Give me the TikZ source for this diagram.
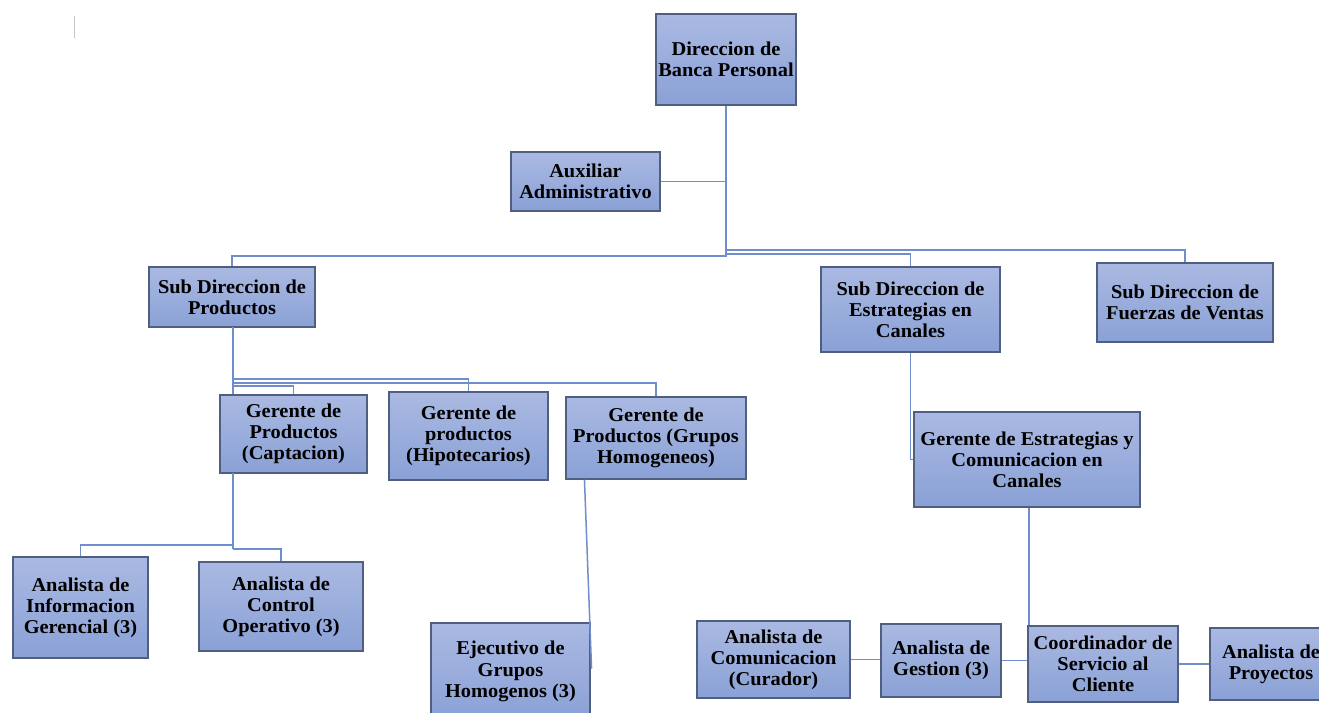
\documentclass[tikz,border=0pt]{standalone}
\usepackage{fontspec}
\setmainfont{Liberation Serif}[FakeStretch=1.04]
\definecolor{boxtop}{RGB}{170,185,226}
\definecolor{boxbot}{RGB}{138,161,214}
\definecolor{boxline}{RGB}{80,94,128}
\definecolor{connline}{RGB}{112,142,204}
\tikzset{
  box/.style={draw=boxline, line width=1.1pt, top color=boxtop, bottom color=boxbot,
    inner sep=0pt, align=center, font=\bfseries\fontsize{19.6}{21.2}\selectfont, text=black},
  conn/.style={draw=connline, line width=1.5pt}
}
\begin{document}
\begin{tikzpicture}[x=1pt,y=-1pt]
\useasboundingbox (0,0) rectangle (1319,712);
\fill[white] (0,0) rectangle (1319,712);
\draw[gray!45, line width=1pt] (74,16) -- (74,38);

\coordinate (sdps) at (233,327);
\coordinate (gcaps) at (233,473);

\node[box, minimum width=140pt, minimum height=91pt] (dir) at (726,59.5) {Direccion de\\Banca Personal};
\node[box, minimum width=149pt, minimum height=59pt] (aux) at (585.5,181.5) {Auxiliar\\Administrativo};
\node[box, minimum width=166pt, minimum height=60pt] (sdp) at (232,297) {Sub Direccion de\\Productos};
\node[box, minimum width=179pt, minimum height=85pt] (sde) at (910.5,309.5) {Sub Direccion de\\Estrategias en\\Canales};
\node[box, minimum width=176pt, minimum height=79pt] (sdf) at (1185,302.5) {Sub Direccion de\\Fuerzas de Ventas};
\node[box, minimum width=147pt, minimum height=78pt] (gcap) at (293.5,434) {Gerente de\\Productos\\(Captacion)};
\node[box, minimum width=159pt, minimum height=88pt] (ghip) at (468.5,436) {Gerente de\\productos\\(Hipotecarios)};
\node[box, minimum width=180pt, minimum height=82pt] (ggru) at (656,438) {Gerente de\\Productos (Grupos\\Homogeneos)};
\node[box, minimum width=226pt, minimum height=95pt] (gest) at (1027,459.5) {Gerente de Estrategias y\\Comunicacion en\\Canales};
\node[box, minimum width=135pt, minimum height=101pt] (ainf) at (80.5,607.5) {Analista de\\Informacion\\Gerencial (3)};
\node[box, minimum width=164pt, minimum height=89pt] (acon) at (281,606.5) {Analista de\\Control\\Operativo (3)};
\node[box, minimum width=159pt, minimum height=97pt] (ejec) at (510.5,671.5) {Ejecutivo de\\Grupos\\Homogenos (3)};
\node[box, minimum width=153pt, minimum height=77pt] (acom) at (773.5,659.5) {Analista de\\Comunicacion\\(Curador)};
\node[box, minimum width=120pt, minimum height=73pt] (ages) at (941,660.5) {Analista de\\Gestion (3)};
\node[box, minimum width=150pt, minimum height=76pt] (coor) at (1103,664) {Coordinador de\\Servicio al\\Cliente};
\node[box, minimum width=122pt, minimum height=72pt] (apro) at (1271,664) {Analista de\\Proyectos};

% top level
\draw[conn] (dir.south) -- (dir.south |- 0,256) -- (sdp.north |- 0,256) -- (sdp.north);
\draw[conn] (aux.east) -- (aux.east -| dir.south);
\draw[conn] (dir.south |- 0,250) -- (sdf.north |- 0,250) -- (sdf.north);
\draw[conn] (dir.south |- 0,254) -- (sde.north |- 0,254) -- (sde.north);

% sub direccion de productos
\draw[conn] (sdps) -- (sdps |- gcap.north);
\draw[conn] (sdps |- 0,379) -- (ghip.north |- 0,379) -- (ghip.north);
\draw[conn] (sdps |- 0,383) -- (ggru.north |- 0,383) -- (ggru.north);
\draw[conn] (sdps |- 0,386) -- (gcap.north |- 0,386) -- (gcap.north);

% captacion
\draw[conn] (gcaps) -- (gcaps |- 0,549);
\draw[conn] (gcaps |- 0,545) -- (ainf.north |- 0,545) -- (ainf.north);
\draw[conn] (gcaps |- 0,549) -- (acon.north |- 0,549) -- (acon.north);

% grupos homogeneos
\draw[conn] ([xshift=19pt]ggru.south west) -- ([xshift=1pt,yshift=3pt]ejec.east);

% estrategias
\draw[conn] (sde.south) -- (sde.south |- gest.west) -- (gest.west);
\draw[conn] ([xshift=2pt]gest.south) -- ([xshift=2pt]gest.south |- coor.north);
\draw[conn] (ages.east) -- (ages.east -| coor.west);
\draw[conn] (acom.east) -- (acom.east -| ages.west);
\draw[conn] (coor.east) -- (coor.east -| apro.west);
\end{tikzpicture}
\end{document}
